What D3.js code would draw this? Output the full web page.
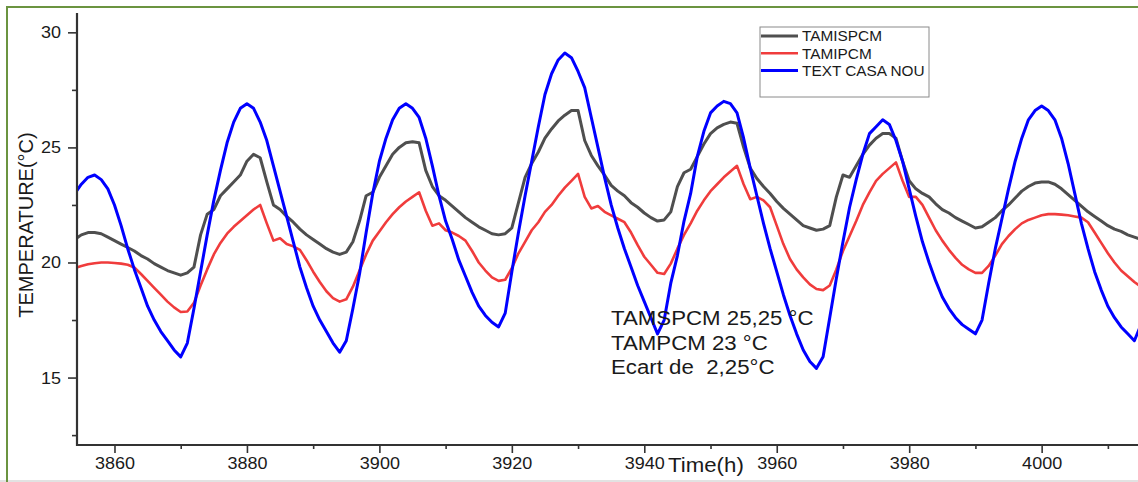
<!DOCTYPE html>
<html>
<head>
<meta charset="utf-8">
<script src="https://cdn.jsdelivr.net/npm/d3@7"></script>
<style>
    body { margin: 0; background: #fff; }
    text { font-family: "Liberation Sans", Arial, sans-serif; fill: #1a1a1a; }
</style>
</head>
<body>
<div id="chart"></div>
<script>

// hourly samples, first one is hour 3854
var startHour = 3854;

var tamispcm = [
    21.0, 21.2, 21.3, 21.3, 21.25, 21.1, 20.95, 20.8, 20.65, 20.5,
    20.3, 20.15, 19.95, 19.8, 19.65, 19.55, 19.45, 19.55, 19.8, 21.2,
    22.1, 22.3, 22.9, 23.2, 23.5, 23.8, 24.4, 24.7, 24.55, 23.5,
    22.5, 22.3, 22.0, 21.75, 21.45, 21.2, 21.0, 20.8, 20.6, 20.45,
    20.35, 20.45, 20.9, 21.8, 22.9, 23.05, 23.7, 24.2, 24.7, 25.0,
    25.2, 25.25, 25.2, 24.0, 23.3, 22.9, 22.7, 22.45, 22.2, 21.95,
    21.75, 21.55, 21.4, 21.25, 21.2, 21.25, 21.5, 22.6, 23.7, 24.3,
    24.8, 25.4, 25.8, 26.15, 26.4, 26.6, 26.6, 25.3, 24.65, 24.2,
    23.8, 23.35, 23.1, 22.9, 22.6, 22.4, 22.15, 21.95, 21.8, 21.85,
    22.2, 23.3, 23.9, 24.05, 24.6, 25.15, 25.6, 25.85, 26.0, 26.1,
    26.05, 25.0, 24.1, 23.65, 23.3, 23.0, 22.65, 22.35, 22.1, 21.85,
    21.6, 21.5, 21.4, 21.45, 21.6, 22.85, 23.8, 23.7, 24.2, 24.7,
    25.1, 25.4, 25.6, 25.6, 25.4, 24.4, 23.55, 23.2, 23.0, 22.85,
    22.55, 22.3, 22.15, 21.95, 21.8, 21.65, 21.5, 21.55, 21.75, 21.95,
    22.25, 22.5, 22.8, 23.1, 23.3, 23.45, 23.5, 23.5, 23.4, 23.2,
    22.95, 22.7, 22.45, 22.2, 22.0, 21.8, 21.6, 21.45, 21.35, 21.2,
    21.1, 21.0
];

var tamipcm = [
    19.75, 19.85, 19.92, 19.97, 20.0, 20.0, 19.98, 19.95, 19.9, 19.78,
    19.5, 19.2, 18.9, 18.6, 18.3, 18.05, 17.85, 17.87, 18.25, 19.0,
    19.7, 20.35, 20.85, 21.25, 21.55, 21.8, 22.05, 22.3, 22.5, 21.7,
    20.95, 21.05, 20.8, 20.7, 20.55, 20.1, 19.6, 19.15, 18.75, 18.45,
    18.3, 18.4, 18.95, 19.65, 20.35, 20.95, 21.35, 21.75, 22.1, 22.4,
    22.65, 22.85, 23.05, 22.25, 21.6, 21.7, 21.4, 21.3, 21.15, 20.95,
    20.5, 20.0, 19.65, 19.35, 19.2, 19.25, 19.75, 20.4, 20.9, 21.4,
    21.75, 22.2, 22.5, 22.9, 23.25, 23.55, 23.85, 22.85, 22.35, 22.45,
    22.2, 22.05, 21.9, 21.75, 21.3, 20.75, 20.25, 19.9, 19.55, 19.5,
    19.95, 20.6, 21.2, 21.7, 22.25, 22.7, 23.1, 23.4, 23.7, 23.95,
    24.2, 23.4, 22.75, 22.85, 22.7, 22.4, 21.6, 20.8, 20.15, 19.7,
    19.35, 19.05, 18.85, 18.8, 19.0, 19.7, 20.5, 21.15, 21.8, 22.5,
    23.05, 23.55, 23.85, 24.1, 24.35, 23.55, 22.85, 22.85, 22.5, 21.95,
    21.4, 20.95, 20.55, 20.2, 19.9, 19.7, 19.55, 19.55, 19.85, 20.3,
    20.8, 21.15, 21.45, 21.7, 21.85, 21.95, 22.05, 22.1, 22.1, 22.08,
    22.05, 22.0, 21.95, 21.75, 21.3, 20.85, 20.4, 20.0, 19.65, 19.4,
    19.15, 18.95
];

var textCasaNou = [
    23.0, 23.4, 23.7, 23.8, 23.6, 23.2, 22.5, 21.6, 20.6, 19.7,
    18.9, 18.1, 17.5, 17.0, 16.6, 16.2, 15.9, 16.5, 18.0, 19.6,
    21.2, 22.7, 24.0, 25.2, 26.1, 26.7, 26.9, 26.7, 26.1, 25.3,
    24.2, 23.1, 22.0, 20.9, 19.8, 18.9, 18.1, 17.5, 17.0, 16.5,
    16.1, 16.6, 18.0, 19.5, 21.3, 23.0, 24.4, 25.4, 26.2, 26.7,
    26.9, 26.7, 26.3, 25.4, 24.2, 22.9, 21.8, 21.0, 20.1, 19.4,
    18.7, 18.1, 17.7, 17.4, 17.2, 17.8, 19.6, 21.3, 22.9, 24.4,
    25.9, 27.3, 28.2, 28.8, 29.1, 28.9, 28.3, 27.6, 26.3, 25.0,
    23.7, 22.5, 21.5, 20.6, 19.8, 19.0, 18.3, 17.6, 16.9, 17.5,
    19.1, 20.3, 21.8, 23.0, 24.6, 25.7, 26.5, 26.8, 27.0, 26.9,
    26.5, 25.4, 24.1, 22.9, 21.7, 20.6, 19.6, 18.6, 17.7, 16.9,
    16.2, 15.7, 15.4, 15.9, 17.6, 19.3, 20.9, 22.4, 23.6, 24.7,
    25.6, 25.9, 26.2, 26.0, 25.3, 24.4, 23.2, 22.0, 20.9, 20.0,
    19.2, 18.5, 18.0, 17.6, 17.3, 17.1, 16.9, 17.5, 19.1, 20.6,
    21.9, 23.2, 24.4, 25.4, 26.2, 26.6, 26.8, 26.6, 26.2, 25.4,
    24.3, 23.0, 21.7, 20.6, 19.6, 18.8, 18.1, 17.6, 17.2, 16.9,
    16.6, 17.3
];

var seriesNames = ["TAMISPCM", "TAMIPCM", "TEXT CASA NOU"];
var seriesColors = ["#4f4f4f", "#f03c3c", "#0000ff"];

var xTicks = [3860, 3880, 3900, 3920, 3940, 3960, 3980, 4000];
var xMinorTicks = [3870, 3890, 3910, 3930, 3950, 3970, 3990, 4010];
var yTicks = [15, 20, 25, 30];
var yMinorTicks = [12.5, 17.5, 22.5, 27.5];

var noteLines = ["TAMSPCM 25,25 °C", "TAMPCM 23 °C", "Ecart de  2,25°C"];

// -------------------------------------------------------------

var width = 1138, height = 482;
var plotLeft = 77, plotTop = 13, plotBottom = 445, plotRight = 1139;
var sx = 1.06; // the picture is a bit wider than tall, stretch text the same way

var svg = d3.select("#chart").append("svg")
    .attr("width", width)
    .attr("height", height);

// frame
svg.append("rect").attr("x", 0).attr("y", 480).attr("width", width).attr("height", 2).attr("fill", "#e2e2e2");
svg.append("path")
    .attr("d", "M7," + height + "V7H" + width)
    .attr("fill", "none")
    .attr("stroke", "#6b9440")
    .attr("stroke-width", 2);

var x = d3.scaleLinear().domain([3854.34, 4014.7]).range([plotLeft, plotRight]);
var y = d3.scaleLinear().domain([12.07, 30.84]).range([plotBottom, plotTop]);

function points(values) {
    return values.map(function (v, i) { return { t: startHour + i, v: v }; });
}

var line = d3.line()
    .x(function (d) { return x(d.t); })
    .y(function (d) { return y(d.v); });

svg.append("clipPath").attr("id", "plotClip")
    .append("rect").attr("x", plotLeft).attr("y", 0).attr("width", width - plotLeft).attr("height", plotBottom);

var allSeries = [tamispcm, tamipcm, textCasaNou];
var widths = [3, 2.6, 3];

svg.append("g").attr("clip-path", "url(#plotClip)")
    .selectAll("path")
    .data(allSeries)
    .enter().append("path")
    .attr("d", function (d) { return line(points(d)); })
    .attr("fill", "none")
    .attr("stroke", function (d, i) { return seriesColors[i]; })
    .attr("stroke-width", function (d, i) { return widths[i]; })
    .attr("stroke-linejoin", "round");

// axes
function styleAxis(g) {
    g.select(".domain").remove();
    g.selectAll("line").attr("stroke", "#333").attr("stroke-width", 1.6);
    g.selectAll("text").attr("font-size", 17).attr("fill", "#1a1a1a")
        .style("font-family", "'Liberation Sans', Arial, sans-serif");
}

svg.append("g")
    .attr("transform", "translate(0," + plotBottom + ")")
    .call(d3.axisBottom(x).tickValues(xMinorTicks).tickSize(4).tickSizeOuter(0).tickFormat(""))
    .call(styleAxis);

var xAxis = svg.append("g")
    .attr("transform", "translate(0," + plotBottom + ")")
    .call(d3.axisBottom(x).tickValues(xTicks).tickSize(8).tickPadding(4).tickSizeOuter(0).tickFormat(d3.format("d")))
    .call(styleAxis);
xAxis.selectAll("text").attr("transform", "scale(" + sx + ",1)");

svg.append("g")
    .attr("transform", "translate(" + plotLeft + ",0)")
    .call(d3.axisLeft(y).tickValues(yMinorTicks).tickSize(5).tickSizeOuter(0).tickFormat(""))
    .call(styleAxis);

var yAxis = svg.append("g")
    .attr("transform", "translate(" + plotLeft + ",0)")
    .call(d3.axisLeft(y).tickValues(yTicks).tickSize(9).tickPadding(6).tickSizeOuter(0))
    .call(styleAxis);
yAxis.selectAll("text").attr("transform", "scale(" + sx + ",1)");

svg.append("line")
    .attr("x1", plotLeft).attr("x2", plotLeft).attr("y1", plotTop).attr("y2", plotBottom + 1)
    .attr("stroke", "#333").attr("stroke-width", 2.2);
svg.append("line")
    .attr("x1", plotLeft - 1).attr("x2", width).attr("y1", plotBottom).attr("y2", plotBottom)
    .attr("stroke", "#333").attr("stroke-width", 2.2);

// axis titles
svg.append("text")
    .attr("transform", "translate(33,225) rotate(-90)")
    .attr("text-anchor", "middle")
    .attr("font-size", 20)
    .text("TEMPERATURE(°C)");

svg.append("text")
    .attr("transform", "translate(668,472) scale(" + sx + ",1)")
    .attr("font-size", 21)
    .text("Time(h)");

// legend
var legend = svg.append("g");
legend.append("rect")
    .attr("x", 760).attr("y", 27).attr("width", 169).attr("height", 70)
    .attr("fill", "#fff").attr("stroke", "#8a8a8a").attr("stroke-width", 1);

var rows = legend.selectAll(".row")
    .data(seriesNames)
    .enter().append("g")
    .attr("class", "row")
    .attr("transform", function (d, i) { return "translate(0," + (36 + i * 17.3) + ")"; });

rows.append("line")
    .attr("x1", 761).attr("x2", 798)
    .attr("stroke", function (d, i) { return seriesColors[i]; })
    .attr("stroke-width", function (d, i) { return widths[i]; });

rows.append("text")
    .attr("transform", "translate(802,5.4) scale(" + sx + ",1)")
    .attr("font-size", 14.5)
    .text(function (d) { return d; });

// note
svg.append("g").selectAll("text")
    .data(noteLines)
    .enter().append("text")
    .attr("transform", function (d, i) { return "translate(611," + (325 + i * 24.5) + ") scale(" + sx + ",1)"; })
    .attr("font-size", 21)
    .style("white-space", "pre")
    .text(function (d) { return d; });

</script>
</body>
</html>
